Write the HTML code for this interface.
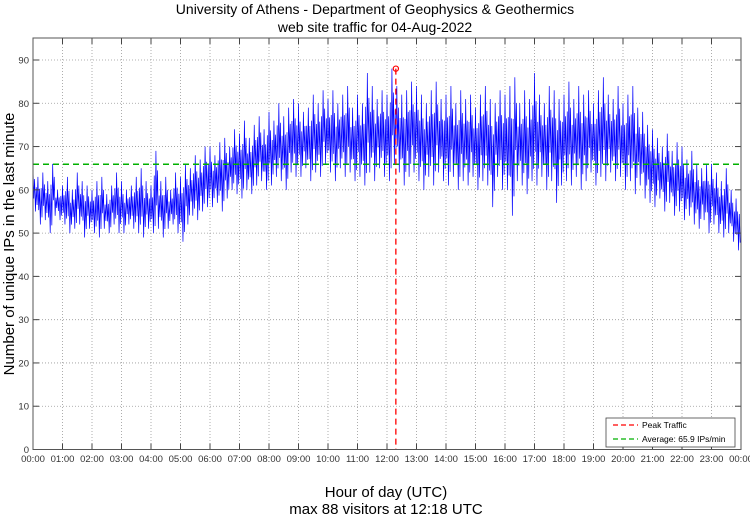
<!DOCTYPE html>
<html><head><meta charset="utf-8"><style>
html,body{margin:0;padding:0;background:#fff;}
svg{display:block;font-family:"Liberation Sans",sans-serif;}
</style></head><body>
<svg id="chart" width="750" height="515" viewBox="0 0 750 515">
<text x="375" y="14" text-anchor="middle" font-size="14">University of Athens - Department of Geophysics &amp; Geothermics</text>
<text x="375" y="32" text-anchor="middle" font-size="14">web site traffic for 04-Aug-2022</text>
<text x="386" y="497" text-anchor="middle" font-size="15">Hour of day (UTC)</text>
<text x="386" y="514" text-anchor="middle" font-size="15">max 88 visitors at 12:18 UTC</text>
<text transform="translate(14,244) rotate(-90)" text-anchor="middle" font-size="15">Number of unique IPs in the last minute</text>
<g id="grid"></g><g id="series"></g><g id="axes"></g>
</svg>
<script>
const hourLabels=["00:00","01:00","02:00","03:00","04:00","05:00","06:00","07:00","08:00","09:00","10:00","11:00","12:00","13:00","14:00","15:00","16:00","17:00","18:00","19:00","20:00","21:00","22:00","23:00","00:00"];
const yTicks=[0,10,20,30,40,50,60,70,80,90];
const highVals=[65,63,64,62,66,60, 61,63,60,64,62,61, 60,62,63,59,61,64, 62,60,61,63,65,62, 61,69,62,63,60,64, 63,66,65,68,67,70, 70,68,71,72,70,74, 73,76,72,75,77,74, 78,76,80,77,79,81, 80,78,79,82,80,83, 81,83,80,82,84,79, 82,80,87,84,81,83, 82,88,84,82,83,85, 84,82,80,83,85,81, 82,84,80,83,81,82, 79,82,84,81,80,83, 82,84,86,80,83,81, 87,82,80,84,83,81, 82,85,81,84,82,83, 80,83,86,82,81,84, 80,82,84,79,78,75, 74,72,70,73,69,71, 70,67,69,66,65,66, 66,64,62,65,60,58];
const lowVals=[55,52,53,50,54,53, 52,50,51,52,49,51, 50,49,51,50,52,50, 50,52,51,50,49,51, 50,51,49,51,52,50, 48,52,54,53,55,56, 56,57,55,58,60,59, 58,60,59,61,62,60, 61,63,62,60,64,63, 63,65,62,64,63,66, 64,62,65,63,64,62, 63,61,64,62,65,63, 62,66,64,61,63,64, 62,60,63,61,64,62, 61,63,60,62,61,63, 60,62,61,56,63,60, 60,54,62,61,59,62, 61,63,60,62,57,61, 62,61,63,60,62,64, 61,63,62,64,62,63, 60,62,59,61,58,57, 56,58,55,57,54,55, 53,54,52,51,53,50, 52,50,49,50,48,46];
const peakMinute=738, peakValue=88, averageValue=65.9;
const L=33,R=741,T=38,B=449.5;
const xs=m=>L+(R-L)*m/1440;
const ys=v=>B-(B-60)*v/90;
const NS="http://www.w3.org/2000/svg";
function mk(tag,attrs,parent){const e=document.createElementNS(NS,tag);for(const k in attrs)e.setAttribute(k,attrs[k]);parent.appendChild(e);return e;}
const grid=document.getElementById('grid'),axes=document.getElementById('axes'),series=document.getElementById('series');
hourLabels.forEach((lab,i)=>{const x=xs(i*60);
 if(i>0&&i<24){const g=mk('line',{x1:x,x2:x,y1:T,y2:B,stroke:'#999','stroke-width':0.8,'stroke-dasharray':'1,2'},grid);
 
 mk('line',{x1:x,x2:x,y1:B,y2:B-6,stroke:'#444'},axes);mk('line',{x1:x,x2:x,y1:T,y2:T+6,stroke:'#444'},axes);}
 const t=mk('text',{x:x,y:462,'text-anchor':'middle','font-size':9.5,fill:'#333'},axes);t.textContent=lab;
 });
yTicks.forEach(v=>{const y=ys(v);
 if(v>0){const g=mk('line',{x1:L,x2:R,y1:y,y2:y,stroke:'#999','stroke-width':0.8,'stroke-dasharray':'1,2'},grid);
 
 mk('line',{x1:L,x2:L+6,y1:y,y2:y,stroke:'#444'},axes);mk('line',{x1:R,x2:R-6,y1:y,y2:y,stroke:'#444'},axes);}
 const t=mk('text',{x:L-4,y:y+3.5,'text-anchor':'end','font-size':9.5,fill:'#333'},axes);t.textContent=v;
 });
let pts=[];
highVals.forEach((h,i)=>{
 const l=lowVals[i], nh=highVals[Math.min(i+1,highVals.length-1)];
 pts.push(xs(i*10)+','+ys(h));
 pts.push(xs(i*10+1.6)+','+ys(l+(h-l)*0.3));
 pts.push(xs(i*10+3.2)+','+ys(h-(h-l)*0.25));
 pts.push(xs(i*10+5)+','+ys(l));
 pts.push(xs(i*10+6.6)+','+ys(l+(nh-l)*0.7));
 pts.push(xs(i*10+8.3)+','+ys(l+(h-l)*0.15));
});
const line=mk('polyline',{points:pts.join(' '),fill:'none',stroke:'#0000ff','stroke-width':0.7},series);


const avg=mk('line',{x1:L,x2:R,y1:ys(averageValue),y2:ys(averageValue),stroke:'#00b000','stroke-width':1.5,'stroke-dasharray':'6,4'},series);


const pk=mk('line',{x1:xs(peakMinute),x2:xs(peakMinute),y1:ys(peakValue),y2:B,stroke:'#ff0000','stroke-width':1.3,'stroke-dasharray':'6,4'},series);


const pc=mk('circle',{cx:xs(peakMinute),cy:ys(peakValue),r:2.6,fill:'none',stroke:'#ff0000','stroke-width':1.2},series);


const fr=mk('rect',{x:L,y:T,width:R-L,height:B-T,fill:'none',stroke:'#555','stroke-width':1},axes);


const lg=mk('g',{},axes);


mk('rect',{x:606,y:418,width:129,height:29,fill:'#fff',stroke:'#444','stroke-width':0.8},lg);
mk('line',{x1:613,x2:638,y1:425,y2:425,stroke:'#ff0000','stroke-width':1.3,'stroke-dasharray':'5,3'},lg);
mk('line',{x1:613,x2:638,y1:439,y2:439,stroke:'#00b000','stroke-width':1.3,'stroke-dasharray':'5,3'},lg);
const l1=mk('text',{x:642,y:428,'font-size':8.5},lg);l1.textContent='Peak Traffic';


const l2=mk('text',{x:642,y:442,'font-size':8.5},lg);l2.textContent='Average: 65.9 IPs/min';


</script>
</body></html>
